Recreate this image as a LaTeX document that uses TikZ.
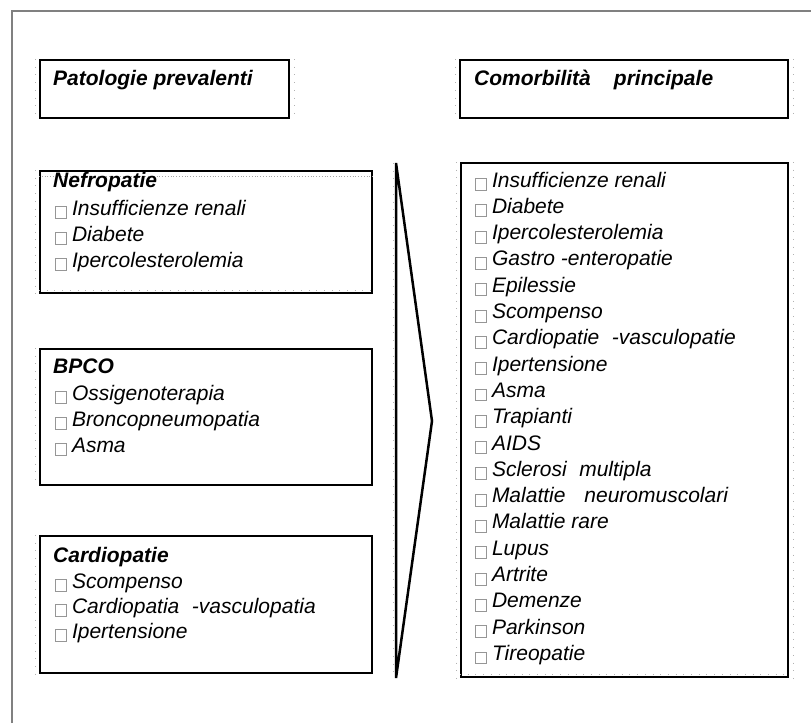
\documentclass[tikz,border=0pt]{standalone}
\usepackage{fontspec}
\setmainfont{Liberation Sans}
\usetikzlibrary{fit}
\definecolor{framegray}{RGB}{128,128,128}
\definecolor{chkgray}{RGB}{150,150,150}
\newcommand\chk{{\color{chkgray}\setlength\fboxrule{0.9pt}\setlength\fboxsep{0pt}\raisebox{-3pt}{\fbox{\phantom{\rule{10pt}{11pt}}}}}\hspace{5pt}}
\begin{document}
\begin{tikzpicture}[x=1pt,y=-1pt,
  box/.style={draw=black,line width=2pt,inner sep=0pt},
  txt/.style={anchor=base west,inner sep=0pt,font=\fontsize{21}{25}\selectfont\itshape},
  hdr/.style={anchor=base west,inner sep=0pt,font=\fontsize{21}{25}\selectfont\bfseries\itshape},
  dotline/.style={draw=gray!60,line width=0.7pt,dash pattern=on 0.7pt off 7pt}]
\useasboundingbox (0,0) rectangle (811,723);
% outer frame
\coordinate (fa) at (12,723);
\coordinate (fb) at (12,11);
\coordinate (fc) at (811,11);
\draw[framegray,line width=1.5pt] (fa) -- (fb) -- (fc);
% header boxes
\node (hl) [box,fit={(40,60)(289,118)}] {};
\node (hr) [box,fit={(460,60)(788,118)}] {};
\node (hlt) [hdr] at (53,85) {Patologie prevalenti};
\node (hrt) [hdr] at (474,85) {Comorbilità\hspace{1.1em}principale};
% left group boxes
\node (nef) [box,fit={(40,171)(372,293)}] {};
\node (bpc) [box,fit={(40,349)(372,485)}] {};
\node (car) [box,fit={(40,536)(372,673)}] {};
\draw[draw=gray!70,line width=0.8pt,dotted] ([yshift=-6pt]nef.north west) -- ([yshift=-6pt]nef.north east);
\foreach \b in {hl,nef,bpc,car,hr,rb0}{}
\draw[dotline] ([xshift=-4pt]hl.north west) -- ([xshift=-4pt]hl.south west);
\draw[dotline] ([xshift=4pt]hl.north east) -- ([xshift=4pt]hl.south east);
\draw[dotline] ([xshift=-4pt]nef.north west) -- ([xshift=-4pt]nef.south west);
\draw[dotline] ([yshift=4pt]nef.south west) -- ([yshift=4pt]nef.south east);
\draw[dotline] ([xshift=-4pt]bpc.north west) -- ([xshift=-4pt]bpc.south west);
\draw[dotline] ([xshift=-4pt]car.north west) -- ([xshift=-4pt]car.south west);
% Nefropatie
\node (n0) [hdr] at (53,187) {Nefropatie};
\node (n1) [txt] at (55,215) {\chk Insufficienze renali};
\node (n2) [txt] at (55,241) {\chk Diabete};
\node (n3) [txt] at (55,267) {\chk Ipercolesterolemia};
% BPCO
\node (b0) [hdr] at (53,373) {BPCO};
\node (b1) [txt] at (55,400) {\chk Ossigenoterapia};
\node (b2) [txt] at (55,426) {\chk Broncopneumopatia};
\node (b3) [txt] at (55,452) {\chk Asma};
% Cardiopatie
\node (c0) [hdr] at (53,562) {Cardiopatie};
\node (c1) [txt] at (55,588) {\chk Scompenso};
\node (c2) [txt] at (55,613) {\chk Cardiopatia\hspace{0.6em}-vasculopatia};
\node (c3) [txt] at (55,638) {\chk Ipertensione};
% arrow
\coordinate (at) at (396,163);
\coordinate (ab) at (396,678);
\coordinate (ap) at (432,421);
\draw[dotline] ([xshift=-3pt]at) -- ([xshift=-3pt]ab);
\draw[line width=2.5pt,line join=miter] (at) -- (ap) -- (ab) -- cycle;
% right box
\node (rb) [box,fit={(461,163)(788,677)}] {};
\draw[dotline] ([xshift=-4pt]rb.north west) -- ([xshift=-4pt]rb.south west);
\draw[dotline] ([xshift=4pt]rb.north east) -- ([xshift=4pt]rb.south east);
\draw[dotline] ([yshift=4pt]rb.south west) -- ([yshift=4pt]rb.south east);
\draw[dotline] ([xshift=-4pt]hr.north west) -- ([xshift=-4pt]hr.south west);
\draw[dotline] ([xshift=4pt]hr.north east) -- ([xshift=4pt]hr.south east);
\foreach \t [count=\i from 0] in {Insufficienze renali,Diabete,Ipercolesterolemia,Gastro -enteropatie,Epilessie,Scompenso,Cardiopatie\hspace{0.6em}-vasculopatie,Ipertensione,Asma,Trapianti,AIDS,Sclerosi\hspace{0.6em}multipla,Malattie\hspace{0.9em}neuromuscolari,Malattie rare,Lupus,Artrite,Demenze,Parkinson,Tireopatie}{
  \node (r\i) [txt] at (475,{187+\i*26.3}) {\chk \t};
}
\end{tikzpicture}
\end{document}
